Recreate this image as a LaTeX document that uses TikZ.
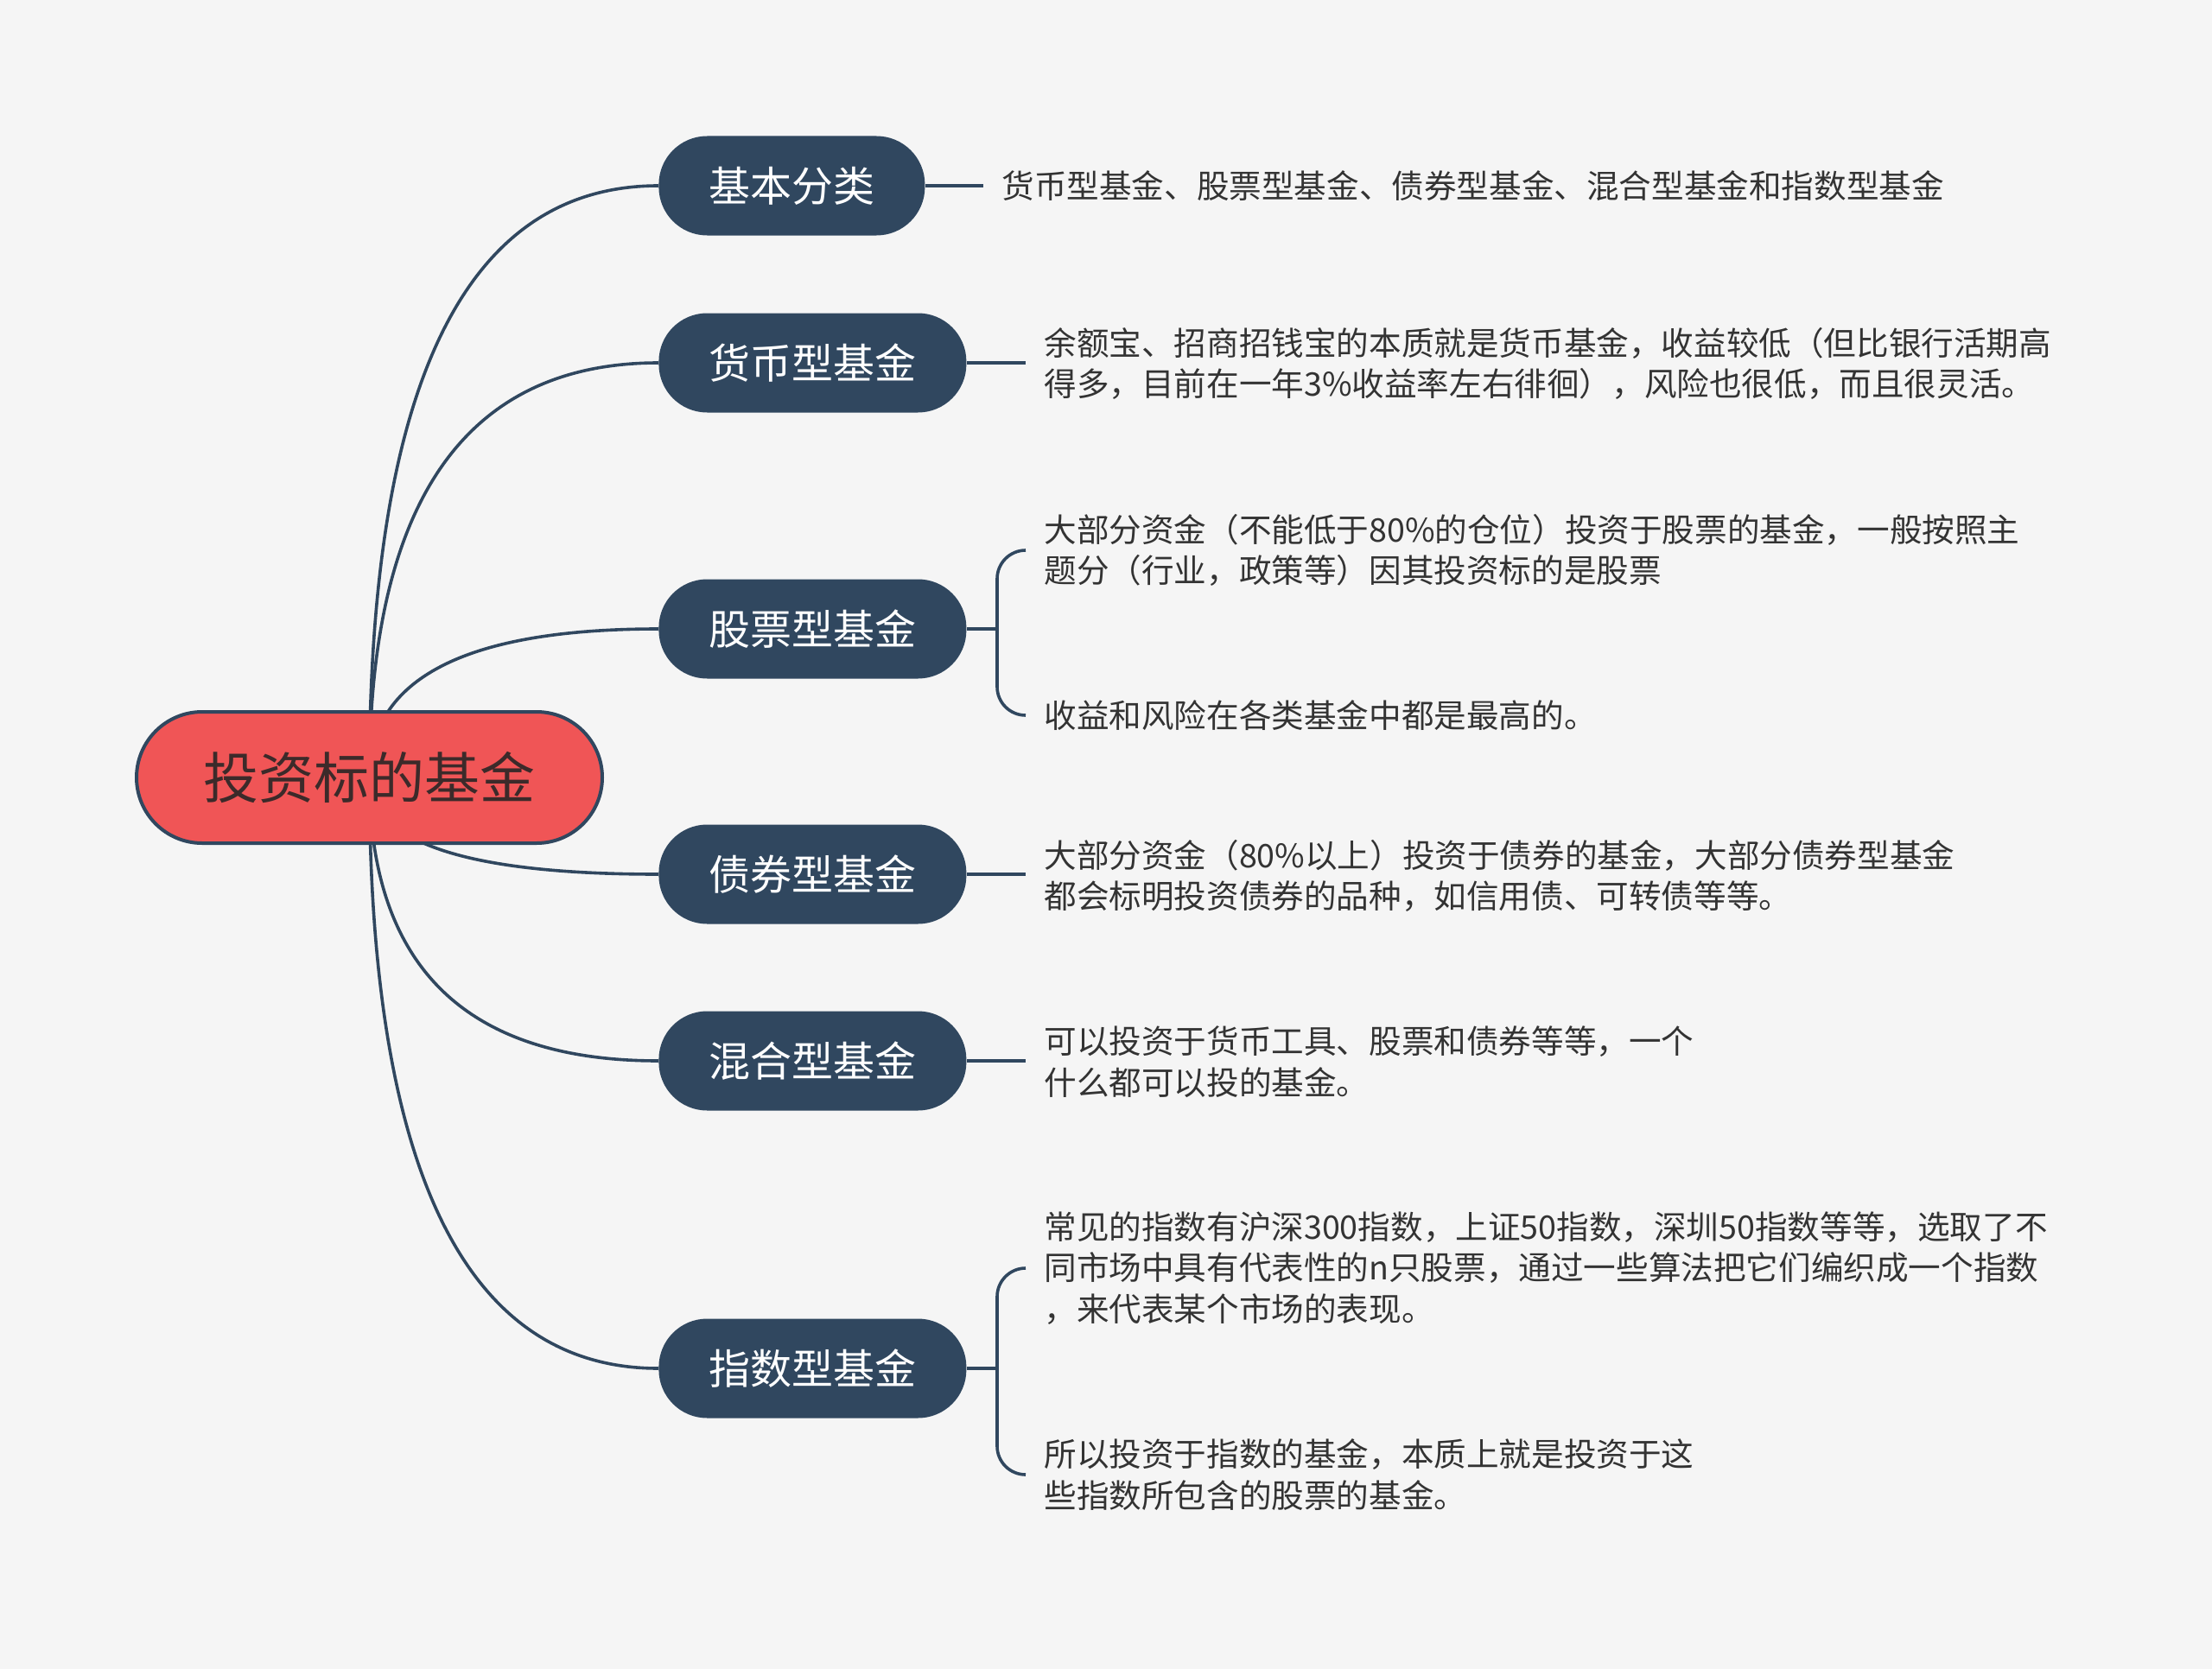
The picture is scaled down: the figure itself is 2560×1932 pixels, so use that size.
\documentclass[tikz,border=0pt]{standalone}
\usepackage{fontspec}
\newfontfamily\cjk{Noto Sans CJK SC}
\usetikzlibrary{calc}
\definecolor{navy}{RGB}{48,71,95}
\definecolor{redfill}{RGB}{240,85,86}
\definecolor{bgc}{RGB}{245,245,245}
\definecolor{txt}{RGB}{51,51,51}
\definecolor{ctxt}{RGB}{60,42,42}
\pgfdeclarelayer{bgl}
\pgfdeclarelayer{lines}
\pgfsetlayers{bgl,lines,main}
\begin{document}
\begin{tikzpicture}[x=0.5pt,y=-0.5pt,
  root/.style={draw=navy,line width=2pt,fill=redfill,rounded corners=38pt,minimum width=269.5pt,minimum height=76pt,font=\cjk\fontsize{32}{38}\selectfont,text=ctxt,inner sep=0pt},
  branch/.style={anchor=west,fill=navy,rounded corners=28pt,minimum height=57.5pt,inner xsep=29pt,inner ysep=0pt,font=\cjk\fontsize{24}{28}\selectfont,text=white},
  leaf/.style={anchor=west,align=left,inner xsep=10.5pt,inner ysep=0pt,font=\cjk\fontsize{18.8}{23.75}\selectfont,text=txt},
  link/.style={draw=navy,line width=1.8pt},
  brk/.style={draw=navy,line width=1.8pt,rounded corners=16.5pt},
]
\useasboundingbox (0,0) rectangle (2560,1932);
\begin{pgfonlayer}{bgl}
\fill[bgc] (0,0) rectangle (2560,1932);
\end{pgfonlayer}

\node[root] (root) at (427.5,900) {投资标的基金};

\node[branch] (b1) at (762,215) {基本分类};
\node[branch] (b2) at (762,420) {货币型基金};
\node[branch] (b3) at (762,728) {股票型基金};
\node[branch] (b4) at (762,1012) {债券型基金};
\node[branch] (b5) at (762,1228) {混合型基金};
\node[branch] (b6) at (762,1584) {指数型基金};

\node[leaf] (l1) at (1138,215) {货币型基金、股票型基金、债券型基金、混合型基金和指数型基金};
\node[leaf] (l2) at (1187,421) {余额宝、招商招钱宝的本质就是货币基金，收益较低（但比银行活期高\\得多，目前在一年3\%收益率左右徘徊），风险也很低，而且很灵活。};
\node[leaf] (l3a) at (1187,637) {大部分资金（不能低于80\%的仓位）投资于股票的基金，一般按照主\\题分（行业，政策等）因其投资标的是股票};
\node[leaf] (l3b) at (1187,828) {收益和风险在各类基金中都是最高的。};
\node[leaf] (l4) at (1187,1014) {大部分资金（80\%以上）投资于债券的基金，大部分债券型基金\\都会标明投资债券的品种，如信用债、可转债等等。};
\node[leaf] (l5) at (1187,1229) {可以投资于货币工具、股票和债券等等，一个\\什么都可以投的基金。};
\node[leaf] (l6a) at (1187,1468) {常见的指数有沪深300指数，上证50指数，深圳50指数等等，选取了不\\同市场中具有代表性的n只股票，通过一些算法把它们编织成一个指数\\，来代表某个市场的表现。};
\node[leaf] (l6b) at (1187,1707) {所以投资于指数的基金，本质上就是投资于这\\些指数所包含的股票的基金。};

\coordinate (j3) at (1154,728);
\coordinate (j6) at (1154,1584);

\begin{pgfonlayer}{lines}
\foreach \b in {b1,b2,b3,b4,b5,b6}
  \draw[link] (root.center) .. controls ($(root.center)!0.6667!(root.center |- \b.west)$) and ($(\b.west)!0.6667!(root.center |- \b.west)$) .. (\b.west);
\end{pgfonlayer}

\draw[link] (b1.east) -- (b1.east -| l1.west);
\draw[link] (b2.east) -- (b2.east -| l2.west);
\draw[link] (b4.east) -- (b4.east -| l4.west);
\draw[link] (b5.east) -- (b5.east -| l5.west);
\draw[link] (b3.east) -- (j3);
\draw[brk] (l3a.west) -| (j3) |- (l3b.west);
\draw[link] (b6.east) -- (j6);
\draw[brk] (l6a.west) -| (j6) |- (l6b.west);
\end{tikzpicture}
\end{document}
